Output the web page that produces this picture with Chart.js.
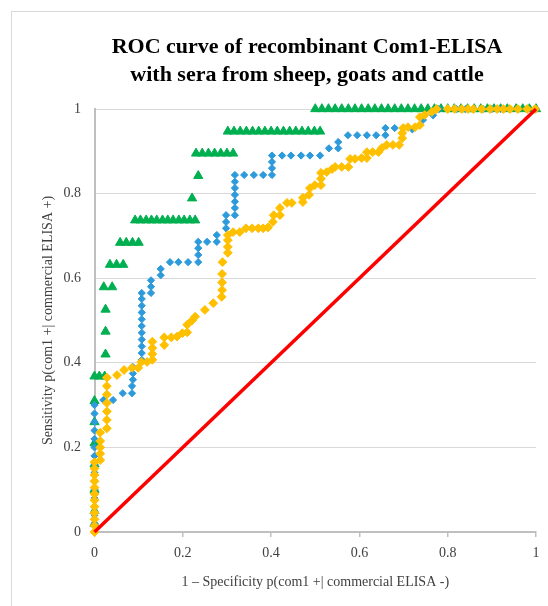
<!DOCTYPE html>
<html>
<head>
<meta charset="utf-8">
<title>ROC curve of recombinant Com1-ELISA</title>
<script src="https://cdn.jsdelivr.net/npm/chart.js@4.4.1/dist/chart.umd.min.js"></script>
<style>
  html, body { margin: 0; padding: 0; background: #fff; }
  #wrap { width: 548px; height: 606px; position: relative; overflow: hidden; }
</style>
</head>
<body>
<div id="wrap"><canvas id="rocChart" width="548" height="606"></canvas></div>
<script>
// ============================================================================
// Data
// ============================================================================
const titleLines = ['ROC curve of recombinant Com1-ELISA', 'with sera from sheep, goats and cattle'];
const xAxisTitle = '1 \u2013 Specificity p(com1 +| commercial ELISA -)';
const yAxisTitle = 'Sensitivity p(com1 +| commercial ELISA +)';

// green triangles
const greenX = [0, 0, 0, 0, 0, 0, 0, 0, 0.011, 0.023,
  0.025, 0.025, 0.025, 0.021, 0.04,
  0.035, 0.05, 0.065,
  0.058, 0.072, 0.086, 0.1,
  0.092, 0.104, 0.117, 0.129, 0.141, 0.154, 0.166, 0.178, 0.191, 0.203, 0.216, 0.228,
  0.221, 0.235,
  0.23, 0.244, 0.258, 0.272, 0.286, 0.3, 0.314,
  0.302, 0.316, 0.33, 0.344, 0.358, 0.372, 0.386, 0.4, 0.414, 0.428, 0.442, 0.456, 0.47, 0.484, 0.498, 0.511,
  0.5, 0.515, 0.53, 0.545, 0.56, 0.575, 0.59, 0.605, 0.62, 0.635, 0.65, 0.665, 0.68,
  0.695, 0.71, 0.725, 0.74, 0.755, 0.77, 0.785, 0.8, 0.815, 0.83, 0.845, 0.86,
  0.875, 0.89, 0.905, 0.92, 0.935, 0.955, 0.97, 0.985, 1.0];
const greenY = [0.02, 0.05, 0.1, 0.16, 0.21, 0.26, 0.31, 0.368, 0.368, 0.368,
  0.42, 0.474, 0.526, 0.579, 0.579,
  0.632, 0.632, 0.632,
  0.684, 0.684, 0.684, 0.684,
  0.737, 0.737, 0.737, 0.737, 0.737, 0.737, 0.737, 0.737, 0.737, 0.737, 0.737, 0.737,
  0.789, 0.842,
  0.895, 0.895, 0.895, 0.895, 0.895, 0.895, 0.895,
  0.947, 0.947, 0.947, 0.947, 0.947, 0.947, 0.947, 0.947, 0.947, 0.947, 0.947, 0.947, 0.947, 0.947, 0.947, 0.947,
  1, 1, 1, 1, 1, 1, 1, 1, 1, 1, 1, 1, 1,
  1, 1, 1, 1, 1, 1, 1, 1, 1, 1, 1, 1,
  1, 1, 1, 1, 1, 1, 1, 1, 1];

// blue diamonds
const blueX = [0, 0, 0, 0, 0, 0, 0, 0, 0, 0, 0, 0, 0, 0, 0, 0,
  0.02, 0.042, 0.064, 0.085, 0.085, 0.087, 0.087, 0.087,
  0.107, 0.107, 0.107, 0.107, 0.107, 0.107, 0.107, 0.107, 0.107, 0.107, 0.107,
  0.128, 0.128, 0.128, 0.15, 0.15, 0.171, 0.19, 0.212,
  0.235, 0.235, 0.235, 0.235, 0.255, 0.277, 0.277,
  0.298, 0.298, 0.298, 0.318, 0.318, 0.318, 0.318, 0.318, 0.318, 0.318,
  0.339, 0.361, 0.382, 0.402, 0.402, 0.402, 0.402,
  0.425, 0.445, 0.468, 0.488, 0.511, 0.531, 0.552, 0.552,
  0.574, 0.595, 0.617, 0.638, 0.659, 0.659, 0.68, 0.7, 0.72, 0.744, 0.767, 0.78,
  0.8, 0.82, 0.84, 0.86, 0.88, 0.9, 0.92, 0.94, 0.96, 0.98, 1.0];
const blueY = [0, 0.02, 0.04, 0.06, 0.08, 0.1, 0.12, 0.14, 0.16, 0.18, 0.2, 0.22, 0.24, 0.26, 0.28, 0.3,
  0.312, 0.312, 0.328, 0.328, 0.345, 0.36, 0.375, 0.39,
  0.407, 0.423, 0.439, 0.455, 0.471, 0.487, 0.503, 0.519, 0.535, 0.551, 0.565,
  0.565, 0.58, 0.595, 0.607, 0.622, 0.638, 0.638, 0.638,
  0.638, 0.655, 0.671, 0.686, 0.686, 0.686, 0.702,
  0.718, 0.733, 0.749, 0.749, 0.766, 0.781, 0.797, 0.813, 0.828, 0.844,
  0.844, 0.844, 0.844, 0.844, 0.86, 0.875, 0.89,
  0.89, 0.89, 0.89, 0.89, 0.89, 0.907, 0.907, 0.922,
  0.938, 0.938, 0.938, 0.938, 0.938, 0.955, 0.955, 0.955, 0.952, 0.974, 0.985, 1.0,
  1, 1, 1, 1, 1, 1, 1, 1, 1, 1, 1];

// yellow diamonds
const yellowX = [0, 0, 0, 0, 0, 0, 0, 0, 0, 0, 0, 0,
  0.013, 0.013, 0.013, 0.013, 0.013,
  0.028, 0.028, 0.028, 0.028, 0.028, 0.028, 0.028,
  0.051, 0.067, 0.085, 0.099, 0.106, 0.119, 0.131, 0.131, 0.131, 0.131,
  0.158, 0.158, 0.174, 0.187, 0.199, 0.21, 0.21, 0.221, 0.228, 0.25, 0.269, 0.288,
  0.289, 0.289, 0.289, 0.29, 0.302, 0.302, 0.302, 0.302, 0.314, 0.329, 0.343, 0.357, 0.371, 0.382, 0.393,
  0.404, 0.406, 0.42, 0.42, 0.436, 0.447, 0.472, 0.472, 0.486, 0.488, 0.499, 0.513, 0.513, 0.513, 0.526, 0.538,
  0.545, 0.56, 0.575, 0.579, 0.59, 0.605, 0.617, 0.617, 0.63, 0.643, 0.651, 0.662, 0.676, 0.69,
  0.697, 0.697, 0.699, 0.71, 0.726, 0.737, 0.737, 0.748, 0.764, 0.775,
  0.8, 0.816, 0.832, 0.846, 0.858, 0.877, 0.896, 0.912, 0.926, 0.941, 0.959, 0.98, 0.998];
const yellowY = [0, 0.015, 0.03, 0.045, 0.06, 0.075, 0.09, 0.105, 0.12, 0.135, 0.15, 0.165,
  0.17, 0.185, 0.2, 0.215, 0.235,
  0.245, 0.265, 0.285, 0.305, 0.325, 0.345, 0.365,
  0.371, 0.383, 0.388, 0.388, 0.402, 0.402, 0.407, 0.421, 0.435, 0.45,
  0.442, 0.46, 0.46, 0.462, 0.47, 0.472, 0.49, 0.5, 0.509, 0.525, 0.541, 0.556,
  0.572, 0.59, 0.61, 0.638, 0.66, 0.674, 0.69, 0.702, 0.709, 0.709, 0.718, 0.718, 0.718, 0.718, 0.72,
  0.733, 0.749, 0.749, 0.766, 0.778, 0.778, 0.78, 0.79, 0.797, 0.813, 0.82, 0.82, 0.835, 0.849, 0.851, 0.858,
  0.863, 0.863, 0.863, 0.882, 0.882, 0.884, 0.884, 0.898, 0.898, 0.898, 0.908, 0.915, 0.915, 0.915,
  0.931, 0.943, 0.955, 0.957, 0.957, 0.962, 0.981, 0.986, 0.993, 1.0,
  1, 1, 1, 1, 1, 1, 1, 1, 1, 1, 1, 1, 1];

// chance diagonal
const refX = [0, 1];
const refY = [0, 1];

// ============================================================================
// Helpers / plugins
// ============================================================================
const serif = "'Liberation Serif', 'Times New Roman', serif";
const textColor = '#404040';

function toPoints(xs, ys) {
    return xs.map((x, i) => ({ x: x, y: ys[i] }));
}

// "0", "0.2" ... "1" like the original axis labels
function shortTick(value) {
    return String(Number(value.toFixed(2)));
}

// light frame around the chart + white background
const framePlugin = {
    id: 'frame',
    beforeDraw(chart) {
        const c = chart.ctx;
        c.save();
        c.fillStyle = '#fff';
        c.fillRect(0, 0, chart.width, chart.height);
        c.strokeStyle = '#D9D9D9';
        c.lineWidth = 1;
        c.strokeRect(11.5, 11.5, 700, 700);
        c.restore();
    }
};

// two-line chart title, centred on the chart object
const titlePlugin = {
    id: 'twoLineTitle',
    afterDraw(chart) {
        const c = chart.ctx;
        c.save();
        c.fillStyle = '#000';
        c.font = "bold 22px " + serif;
        c.textAlign = 'center';
        c.textBaseline = 'alphabetic';
        c.fillText(titleLines[0], 307, 53);
        c.fillText(titleLines[1], 307, 81);
        c.restore();
    }
};

// ============================================================================
// Chart
// ============================================================================
const ctx = document.getElementById('rocChart').getContext('2d');

new Chart(ctx, {
    type: 'scatter',
    data: {
        datasets: [
            {
                label: 'Reference line',
                data: toPoints(refX, refY),
                showLine: true,
                borderColor: '#FF0000',
                borderWidth: 3.5,
                pointRadius: 0,
                clip: false,
                order: 0
            },
            {
                label: 'Series 3',
                data: toPoints(yellowX, yellowY),
                pointStyle: 'rectRot',
                pointRadius: 4.4,
                backgroundColor: '#FFC000',
                borderColor: '#FFC000',
                borderWidth: 1,
                clip: false,
                order: 1
            },
            {
                label: 'Series 2',
                data: toPoints(blueX, blueY),
                pointStyle: 'rectRot',
                pointRadius: 3.6,
                backgroundColor: '#2C9ADB',
                borderColor: '#2C9ADB',
                borderWidth: 1,
                clip: false,
                order: 2
            },
            {
                label: 'Series 1',
                data: toPoints(greenX, greenY),
                pointStyle: 'triangle',
                pointRadius: 5.3,
                backgroundColor: '#00B050',
                borderColor: '#00B050',
                borderWidth: 1,
                clip: false,
                order: 3
            }
        ]
    },
    options: {
        responsive: false,
        animation: false,
        layout: { padding: { top: 109, left: 36, right: 12, bottom: 11.6 } },
        plugins: {
            legend: { display: false },
            tooltip: { enabled: false },
            title: { display: false }
        },
        scales: {
            x: {
                type: 'linear',
                min: 0,
                max: 1,
                ticks: {
                    stepSize: 0.2,
                    padding: 8,
                    maxRotation: 0,
                    color: textColor,
                    font: { family: serif, size: 14 },
                    callback: shortTick
                },
                grid: {
                    drawOnChartArea: false,
                    drawTicks: true,
                    tickLength: 5,
                    color: '#BFBFBF',
                    lineWidth: 1.5
                },
                border: { color: '#BFBFBF', width: 2 },
                title: {
                    display: true,
                    text: xAxisTitle,
                    color: textColor,
                    font: { family: serif, size: 14 },
                    padding: { top: 4, bottom: 4 }
                },
                afterFit: function(scale) { scale.height = 62.4; }
            },
            y: {
                type: 'linear',
                min: 0,
                max: 1,
                ticks: {
                    stepSize: 0.2,
                    padding: 13.5,
                    color: textColor,
                    font: { family: serif, size: 14 },
                    callback: shortTick
                },
                grid: {
                    color: '#D9D9D9',
                    lineWidth: 1,
                    drawTicks: false
                },
                border: { color: '#BFBFBF', width: 2 },
                title: {
                    display: true,
                    text: yAxisTitle,
                    color: textColor,
                    font: { family: serif, size: 14 },
                    padding: { top: 4, bottom: 4 }
                },
                afterFit: function(scale) { scale.width = 58.5; }
            }
        }
    },
    plugins: [framePlugin, titlePlugin]
});
</script>
</body>
</html>
